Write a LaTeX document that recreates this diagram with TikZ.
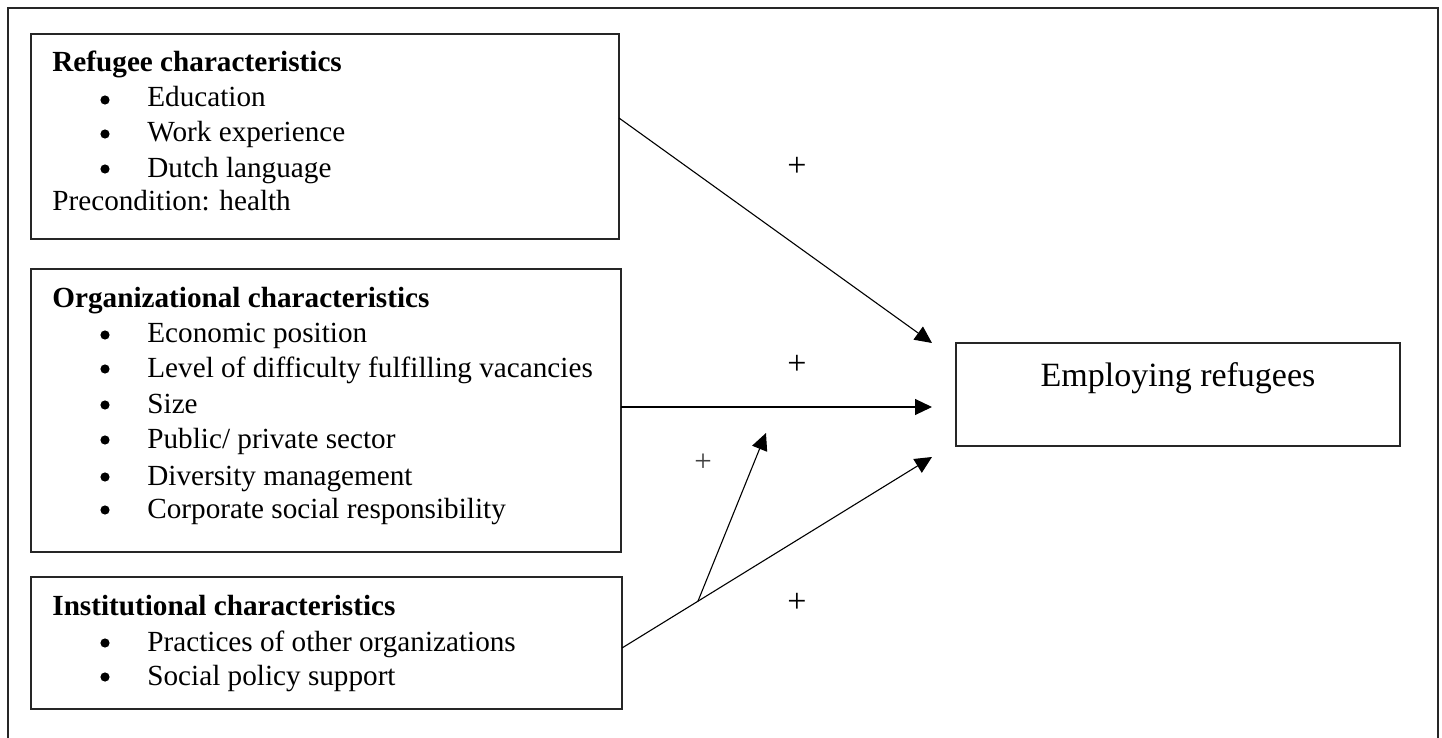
\documentclass[tikz,border=0pt]{standalone}
\usepackage{fontspec}
\setmainfont{Liberation Serif}
\usetikzlibrary{arrows.meta,calc}
\begin{document}
\begin{tikzpicture}[x=0.5pt,y=-0.5pt,
  box/.style={draw=black!85, line width=0.8pt, rectangle, inner sep=0pt, outer sep=0pt},
  txt/.style={anchor=base west, inner sep=0pt, font=\fontsize{14.6pt}{17.5pt}\selectfont},
  ttl/.style={txt, font=\fontsize{14.6pt}{17.5pt}\selectfont\bfseries},
  bul/.style={circle, fill=black, inner sep=0pt, minimum size=4.6pt},
  plus/.style={inner sep=0pt, font=\fontsize{17pt}{20pt}\selectfont},
  conn/.style={line width=0.55pt, -{Triangle[length=8.5pt,width=8pt]}}]
\useasboundingbox (0,0) rectangle (1442,738);
% outer frame (bottom edge lies below the picture)
\draw[black!85, line width=0.9pt] (8,738) -- (8,8) -- (1438,8) -- (1438,738);

% boxes
\node[box, minimum width=294pt, minimum height=102.5pt] (ref) at (325,136.5) {};
\node[box, minimum width=295pt, minimum height=141.5pt] (org) at (326,410.5) {};
\node[box, minimum width=295.5pt, minimum height=66pt] (ins) at (326.5,643) {};
\node[box, minimum width=222pt, minimum height=51.5pt] (emp) at (1178,394.5) {};

% refugee text
\node[ttl] (rt) at (52,72) {Refugee characteristics};
\node[bul] (rb1) at (105,100) {}; \node[txt] (r1) at (147,107) {Education};
\node[bul] (rb2) at (105,134) {}; \node[txt] (r2) at (147,142) {Work experience};
\node[bul] (rb3) at (105,169) {}; \node[txt] (r3) at (147,177) {Dutch language};
\node[txt] (r4) at (52,211) {Precondition: health};

% organizational text
\node[ttl] (ot) at (52,307) {Organizational characteristics};
\node[bul] (ob1) at (105,335) {}; \node[txt] (o1) at (147,343) {Economic position};
\node[bul] (ob2) at (105,369) {}; \node[txt] (o2) at (147,377) {Level of difficulty fulfilling vacancies};
\node[bul] (ob3) at (105,405) {}; \node[txt] (o3) at (147,413) {Size};
\node[bul] (ob4) at (105,440) {}; \node[txt] (o4) at (147,448) {Public/ private sector};
\node[bul] (ob5) at (105,477) {}; \node[txt] (o5) at (147,485) {Diversity management};
\node[bul] (ob6) at (105,510) {}; \node[txt] (o6) at (147,518) {Corporate social responsibility};

% institutional text
\node[ttl] (it) at (52,615) {Institutional characteristics};
\node[bul] (ib1) at (105,643) {}; \node[txt] (i1) at (147,651) {Practices of other organizations};
\node[bul] (ib2) at (105,677) {}; \node[txt] (i2) at (147,685) {Social policy support};

% outcome text
\node[anchor=base, inner sep=0pt, font=\fontsize{17pt}{20pt}\selectfont] (et) at (1178,386) {Employing refugees};

% plus signs
\node[plus] (p1) at (797,167) {+};
\node[plus] (p2) at (797,365) {+};
\node[plus, text=black!75, font=\fontsize{15.5pt}{18pt}\selectfont] (p3) at (703,463) {+};
\node[plus] (p4) at (797,603) {+};

% connectors
\draw[conn] ([yshift=9.25pt]ref.east) -- ([xshift=-12pt]emp.north west);
\draw[conn] ([yshift=1.75pt]org.east) -- ([xshift=-12pt,yshift=-6.25pt]emp.west);
\draw[conn] ([yshift=-2.5pt]ins.east) -- ([xshift=-12pt,yshift=-5.5pt]emp.south west)
  coordinate[pos=0.245] (mstart);
\coordinate (mend) at (766,433);
\draw[conn] (mstart) -- (mend);
\end{tikzpicture}
\end{document}
